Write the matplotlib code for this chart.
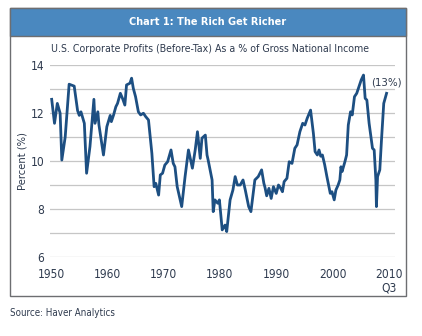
import matplotlib
matplotlib.use("Agg")
import matplotlib.pyplot as plt
from matplotlib.patches import Rectangle
from matplotlib import font_manager

# --- DATA ---
years = [1950.1, 1950.6, 1951.1, 1951.6, 1951.9, 1952.5, 1953.2, 1954.1, 1954.7, 1955.0,
         1955.3, 1955.9, 1956.3, 1956.9, 1957.6, 1957.8, 1958.3, 1958.5, 1959.3, 1959.9,
         1960.5, 1960.7, 1961.1, 1961.5, 1961.8, 1962.3, 1962.7, 1963.1, 1963.4, 1964.0,
         1964.3, 1964.6, 1965.0, 1965.5, 1965.9, 1966.4, 1966.8, 1967.3, 1967.9, 1968.3,
         1968.6, 1969.1, 1969.4, 1969.8, 1970.2, 1970.7, 1971.3, 1971.7, 1972.0, 1972.4,
         1973.2, 1973.8, 1974.4, 1975.1, 1975.6, 1976.0, 1976.5, 1976.8, 1977.4, 1977.7,
         1977.9, 1978.6, 1978.8, 1979.1, 1979.6, 1979.9, 1980.4, 1980.9, 1981.2, 1981.8,
         1982.3, 1982.7, 1983.1, 1983.6, 1984.1, 1984.5, 1985.1, 1985.5, 1986.2, 1986.8,
         1987.4, 1987.8, 1988.0, 1988.3, 1988.7, 1989.1, 1989.5, 1990.0, 1990.4, 1990.8,
         1991.1, 1991.4, 1991.9, 1992.3, 1992.8, 1993.3, 1993.7, 1994.2, 1994.7, 1995.1,
         1995.5, 1996.1, 1996.6, 1996.9, 1997.3, 1997.6, 1997.9, 1998.2, 1998.6, 1999.0,
         1999.6, 1999.9, 2000.3, 2000.6, 2001.0, 2001.3, 2001.5, 2001.7, 2002.2, 2002.5,
         2002.8, 2003.2, 2003.5, 2003.9, 2004.3, 2004.7, 2005.1, 2005.5, 2005.8, 2006.1,
         2006.5, 2007.1, 2007.4, 2007.7, 2007.8, 2008.0, 2008.4, 2008.7, 2009.1, 2009.6]
profits = [12.57, 11.57, 12.40, 11.99, 10.04, 11.00, 13.20, 13.12, 12.10, 11.90,
           12.05, 11.57, 9.49, 10.60, 12.57, 11.57, 12.05, 11.50, 10.25, 11.43,
           11.90, 11.64, 11.92, 12.26, 12.40, 12.82, 12.60, 12.33, 13.17, 13.24,
           13.45, 13.03, 12.68, 12.05, 11.92, 11.99, 11.85, 11.71, 10.32, 8.93,
           9.07, 8.58, 9.42, 9.49, 9.83, 9.97, 10.46, 9.90, 9.76, 8.93,
           8.10, 9.35, 10.46, 9.70, 10.46, 11.22, 10.11, 10.95, 11.08, 10.25,
           10.04, 9.21, 7.89, 8.38, 8.24, 8.38, 7.13, 7.33, 7.06, 8.38,
           8.79, 9.35, 9.00, 9.00, 9.21, 8.79, 8.10, 7.89, 9.21, 9.35,
           9.63, 9.07, 8.90, 8.55, 8.86, 8.44, 8.93, 8.65, 9.00, 8.86,
           8.72, 9.14, 9.28, 9.97, 9.90, 10.53, 10.67, 11.22, 11.57, 11.50,
           11.78, 12.12, 11.15, 10.39, 10.25, 10.46, 10.20, 10.25, 9.85, 9.35,
           8.65, 8.72, 8.38, 8.79, 9.00, 9.21, 9.76, 9.56, 9.97, 10.25,
           11.50, 12.05, 11.92, 12.68, 12.82, 13.10, 13.38, 13.58, 12.61, 12.54,
           11.57, 10.53, 10.46, 9.21, 8.10, 9.35, 9.63, 10.88, 12.40, 12.82]

x_ticks = [1950, 1960, 1970, 1980, 1990, 2000, 2010]
x_labels = ["1950", "1960", "1970", "1980", "1990", "2000", "2010\nQ3"]
y_ticks = [6, 8, 10, 12, 14]

# condensed face, closest to the original's narrow font
names = {f.name for f in font_manager.fontManager.ttflist}
if "Liberation Sans Narrow" in names:
    plt.rcParams["font.family"] = ["Liberation Sans Narrow", "DejaVu Sans"]
else:
    plt.rcParams["font.family"] = ["DejaVu Sans"]
    plt.rcParams["font.stretch"] = "condensed"

text_col = "#2e3a4e"
line_col = "#1d4f82"
grid_col = "#c6c6c6"

fig = plt.figure(figsize=(4.22, 3.36), dpi=100)

# outer frame + header band
fig.patches.append(Rectangle((10 / 422, 1 - 296 / 336), 396 / 422, 288 / 336,
                             transform=fig.transFigure, fill=False,
                             edgecolor="#6d6e71", linewidth=1.0))
fig.patches.append(Rectangle((10 / 422, 1 - 36 / 336), 396 / 422, 28 / 336,
                             transform=fig.transFigure, facecolor="#4a88bf",
                             edgecolor="#6d6e71", linewidth=1.0))
fig.text(208 / 422, 1 - 22 / 336, "Chart 1: The Rich Get Richer", color="white",
         fontsize=7.8, fontweight="bold", ha="center", va="center")
fig.text(210 / 422, 1 - 49 / 336,
         "U.S. Corporate Profits (Before-Tax) As a % of Gross National Income",
         color=text_col, fontsize=7.6, ha="center", va="center")
fig.text(10 / 422, 1 - 313 / 336, "Source: Haver Analytics", color=text_col,
         fontsize=7, ha="left", va="center")

ax = fig.add_axes([50 / 422, 1 - 257 / 336, 345 / 422, 192 / 336])
ax.plot(years, profits, color=line_col, linewidth=2.0, solid_joinstyle="round")

ax.set_xlim(1949.8, 2011.1)
ax.set_ylim(6, 14)
ax.set_yticks(y_ticks)
ax.set_yticks(range(6, 15), minor=True)
ax.set_xticks(x_ticks)
ax.set_xticklabels(x_labels, linespacing=1.0)
ax.grid(axis="y", which="both", color=grid_col, linewidth=0.9)
ax.set_axisbelow(True)
for s in ax.spines.values():
    s.set_visible(False)
ax.tick_params(axis="both", which="both", length=0, labelsize=8.6, labelcolor=text_col)
ax.tick_params(axis="x", pad=8)
ax.tick_params(axis="y", pad=4)
ax.set_ylabel("Percent (%)", color=text_col, fontsize=8, labelpad=2)

ax.annotate("(13%)", xy=(years[-1], 13.26), ha="center", va="center",
            color=text_col, fontsize=8.2)

fig.savefig("out.png", dpi=100)
